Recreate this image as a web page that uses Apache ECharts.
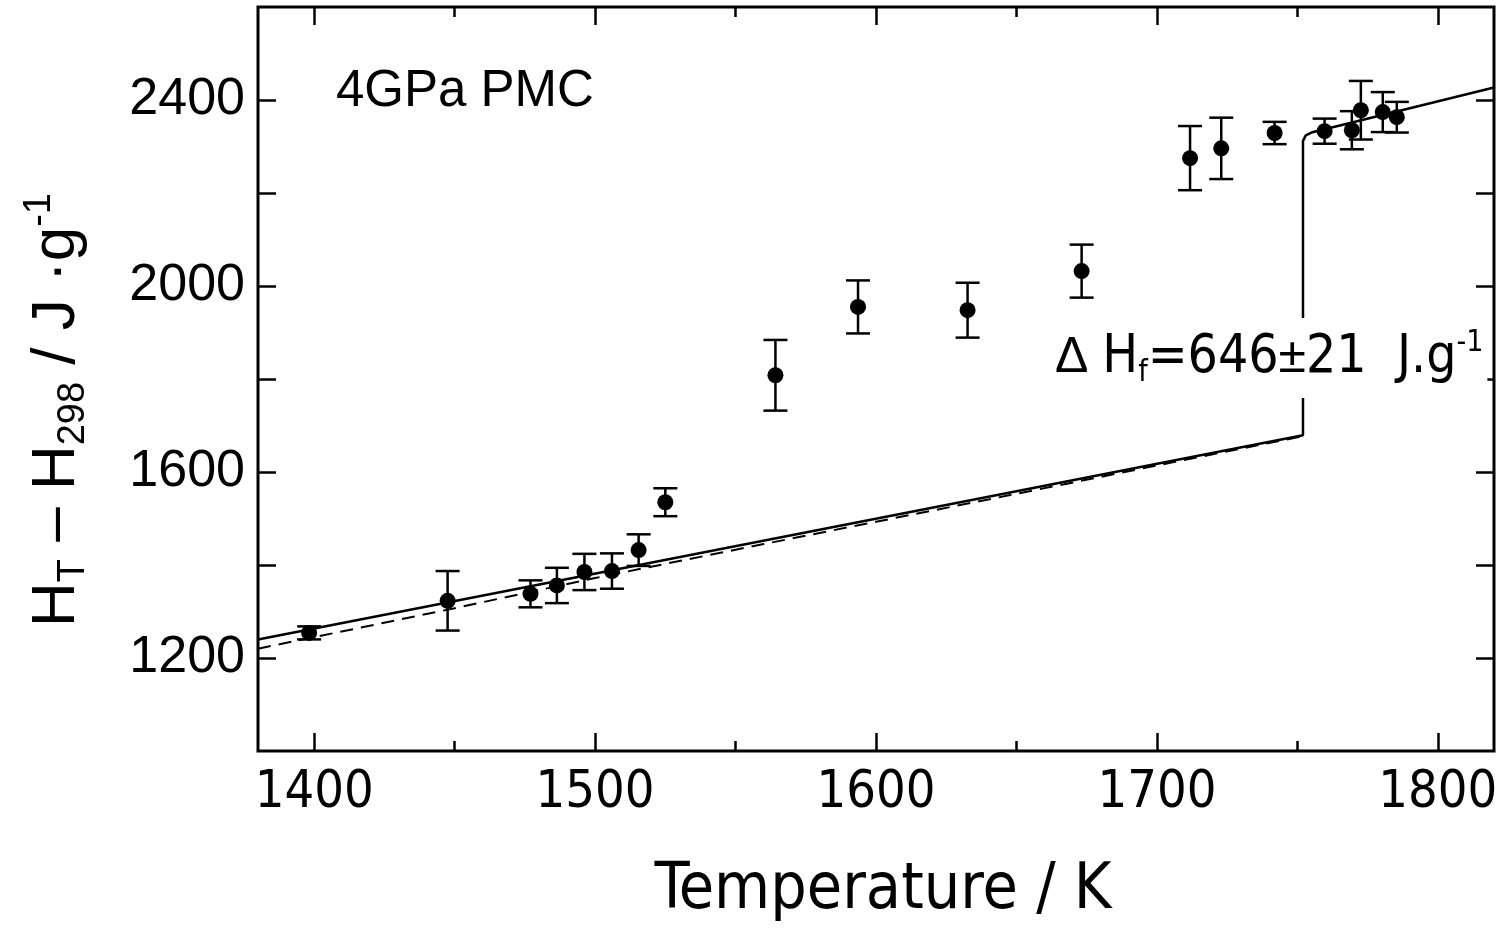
<!DOCTYPE html>
<html><head><meta charset="utf-8">
<script src="https://cdn.jsdelivr.net/npm/echarts@6/dist/echarts.min.js"></script>
<style>html,body{margin:0;padding:0;background:#fff}#c{width:1500px;height:930px}</style>
</head><body><div id="c"></div>
<script>
// Measured points (temperature K, enthalpy J/g, error half-width J/g)
const temperatures = [1398.2, 1447.5, 1477.0, 1486.4, 1496.2, 1506.0, 1515.5, 1525.0, 1564.2, 1593.6, 1632.6, 1673.2, 1711.8, 1722.9, 1741.9, 1759.7, 1769.4, 1772.6, 1780.4, 1785.4];
const enthalpy     = [1254, 1323, 1338, 1356, 1385, 1387, 1432, 1535, 1808, 1955, 1948, 2032, 2275, 2296, 2329, 2333, 2335, 2378, 2374, 2363];
const errors       = [14, 64, 29, 38, 39, 38, 34, 30, 76, 57, 59, 57, 69, 66, 24, 27, 41, 63, 43, 33];
// Fit lines
const solidT  = [1380, 1752, 1752, 1753, 1755, 1820];
const solidH  = [1240, 1679, 2312, 2324, 2330, 2427];
const dashedT = [1380, 1450, 1500, 1560, 1600, 1650, 1700, 1752];
const dashedH = [1220, 1307, 1372, 1445, 1493, 1553, 1614, 1677];
// Axis ticks
const xTickLabels = [1400, 1500, 1600, 1700, 1800];
const xMinorTicks = [1450, 1550, 1650, 1750];
const yTickLabels = [1200, 1600, 2000, 2400];
const yTicks = [1200, 1400, 1600, 1800, 2000, 2200, 2400];

const NARROW = '"Liberation Sans Narrow", "DejaVu Sans Condensed", "Liberation Sans", sans-serif';
const SANS = '"Liberation Sans", Arial, Helvetica, sans-serif';

const points = temperatures.map((t, i) => [t, enthalpy[i]]);
const errData = temperatures.map((t, i) => [t, enthalpy[i] - errors[i], enthalpy[i] + errors[i]]);
const solidData = solidT.map((t, i) => [t, solidH[i]]);
const dashedData = dashedT.map((t, i) => [t, dashedH[i]]);

const tickStyle = { color: '#000', width: 2.5 };
function xAx(pos, ticks, len, extra) {
  return Object.assign({
    type: 'value', min: 1380, max: 1820, position: pos, gridIndex: 0,
    axisLine: { show: false }, splitLine: { show: false },
    axisTick: { show: true, inside: true, length: len, customValues: ticks, lineStyle: tickStyle },
    axisLabel: { show: false }
  }, extra || {});
}
function yAx(pos, ticks, len, extra) {
  return Object.assign({
    type: 'value', min: 1000, max: 2600, position: pos, gridIndex: 0,
    axisLine: { show: false }, splitLine: { show: false },
    axisTick: { show: true, inside: true, length: len, customValues: ticks, lineStyle: tickStyle },
    axisLabel: { show: false }
  }, extra || {});
}
const plain = v => String(v);

const chart = echarts.init(document.getElementById('c'), null, { renderer: 'canvas' });
chart.setOption({
  animation: false,
  backgroundColor: '#fff',
  grid: { left: 258, right: 6, top: 7, bottom: 179, containLabel: false, outerBoundsMode: 'none',
          show: true, borderColor: '#000', borderWidth: 3, backgroundColor: 'transparent' },
  xAxis: [
    xAx('bottom', xTickLabels, 18, {
      axisLabel: { show: true, customValues: xTickLabels, formatter: plain, color: '#000', fontSize: 52, fontFamily: NARROW, margin: 16 },
      name: 'Temperature / K', nameLocation: 'middle', nameGap: 108,
      nameTextStyle: { color: '#000', fontSize: 64, fontFamily: NARROW, padding: [0, 0, 0, 14] }
    }),
    xAx('bottom', xMinorTicks, 10),
    xAx('top', xTickLabels, 18),
    xAx('top', xMinorTicks, 10)
  ],
  yAxis: [
    yAx('left', yTicks, 18, {
      axisLabel: { show: true, customValues: yTickLabels, formatter: plain, color: '#000', fontSize: 52, fontFamily: SANS, margin: 13 },
      name: '{b|H}{s|T}{b| – H}{s|298}{b| / J ·g}{p|-1}', nameLocation: 'middle', nameGap: 165,
      nameTextStyle: {
        color: '#000', fontSize: 62, fontFamily: SANS, padding: [0, 62, 0, 0],
        rich: {
          b: { fontSize: 62, lineHeight: 72, fontFamily: SANS, color: '#000' },
          s: { fontSize: 38, lineHeight: 24, verticalAlign: 'bottom', fontFamily: SANS, color: '#000' },
          p: { fontSize: 38, lineHeight: 24, verticalAlign: 'top', fontFamily: SANS, color: '#000' }
        }
      }
    }),
    yAx('right', yTicks, 18)
  ],
  graphic: [
    { type: 'text', left: 336, top: 66, z: 50,
      style: { text: '4GPa PMC', font: '51px ' + SANS, fill: '#000' } },
    { type: 'text', x: 1051, y: 358, z: 50,
      style: {
        text: '{d|Δ }{m|H}{s|f}{m|=646}{pm|±}{m|21  J.g}{p|-1}',
        verticalAlign: 'middle', align: 'left',
        backgroundColor: '#fff', padding: [10, 4, 10, 4],
        rich: {
          d: { fontSize: 50, lineHeight: 60, fontFamily: SANS, fill: '#000' },
          m: { fontSize: 53, lineHeight: 60, fontFamily: NARROW, fill: '#000' },
          pm: { fontSize: 50, lineHeight: 60, fontFamily: SANS, fill: '#000' },
          s: { fontSize: 30, lineHeight: 20, verticalAlign: 'bottom', fontFamily: NARROW, fill: '#000' },
          p: { fontSize: 30, lineHeight: 20, verticalAlign: 'top', fontFamily: NARROW, fill: '#000' }
        }
      } }
  ],
  series: [
    { type: 'line', xAxisIndex: 0, yAxisIndex: 0, data: dashedData, showSymbol: false, symbol: 'none',
      lineStyle: { color: '#000', width: 2, type: [13, 8] }, z: 3 },
    { type: 'line', xAxisIndex: 0, yAxisIndex: 0, data: solidData, showSymbol: false, symbol: 'none',
      lineStyle: { color: '#000', width: 2.5 }, z: 4 },
    { type: 'custom', xAxisIndex: 0, yAxisIndex: 0, data: errData, z: 5,
      renderItem: function (params, api) {
        const t = api.value(0), lo = api.value(1), hi = api.value(2);
        const a = api.coord([t, hi]), b = api.coord([t, lo]);
        const w = 12, st = { stroke: '#000', lineWidth: 2.5 };
        return { type: 'group', children: [
          { type: 'line', shape: { x1: a[0], y1: a[1], x2: b[0], y2: b[1] }, style: st },
          { type: 'line', shape: { x1: a[0] - w, y1: a[1], x2: a[0] + w, y2: a[1] }, style: st },
          { type: 'line', shape: { x1: b[0] - w, y1: b[1], x2: b[0] + w, y2: b[1] }, style: st }
        ] };
      } },
    { type: 'scatter', xAxisIndex: 0, yAxisIndex: 0, data: points, symbol: 'circle', symbolSize: 16,
      itemStyle: { color: '#000', opacity: 1 }, z: 6 }
  ]
});
</script></body></html>
